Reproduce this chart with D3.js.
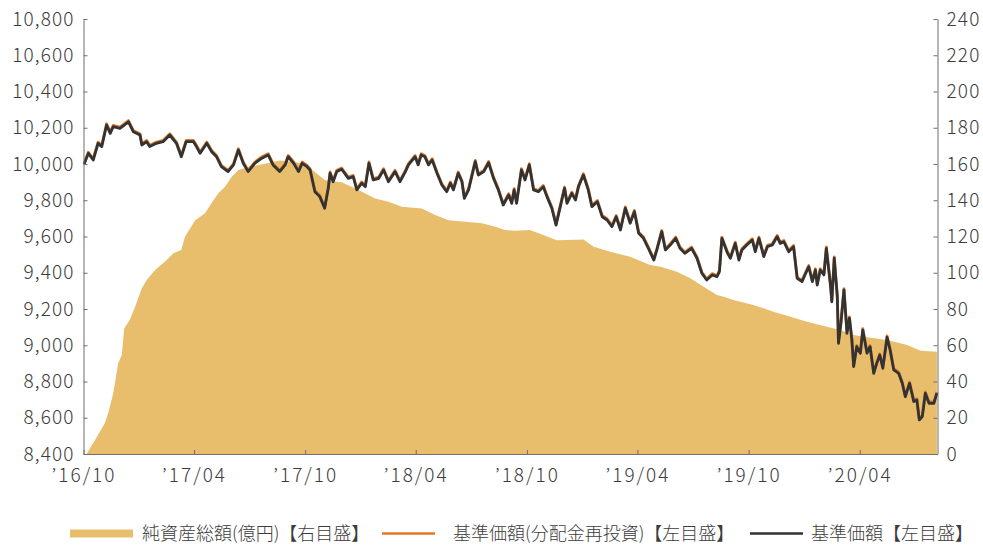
<!DOCTYPE html>
<html>
<head>
<meta charset="utf-8">
<script src="https://cdn.jsdelivr.net/npm/d3@7"></script>
<style>
  body { margin: 0; background: #fff; }
  text { font-family: "Noto Sans CJK JP", "Noto Sans", sans-serif; font-weight: 300; }
</style>
</head>
<body>
<div id="chart"></div>
<script>
// 基準価額 (black)
const navDates = [
  "2016-10-02","2016-10-09","2016-10-17","2016-10-25","2016-10-31","2016-11-08","2016-11-14","2016-11-19","2016-11-30","2016-12-14",
  "2016-12-22","2017-01-02","2017-01-05","2017-01-13","2017-01-18","2017-01-29","2017-02-09","2017-02-20","2017-03-03","2017-03-11",
  "2017-03-19","2017-03-31","2017-04-05","2017-04-11","2017-04-22","2017-04-30","2017-05-08","2017-05-16","2017-05-27","2017-06-05",
  "2017-06-13","2017-06-21","2017-06-29","2017-07-10","2017-07-21","2017-08-01","2017-08-09","2017-08-20","2017-08-29","2017-09-03",
  "2017-09-12","2017-09-20","2017-09-26","2017-10-04","2017-10-09","2017-10-17","2017-10-25","2017-11-02","2017-11-08","2017-11-11",
  "2017-11-16","2017-11-22","2017-11-30","2017-12-11","2017-12-19","2017-12-25","2018-01-02","2018-01-08","2018-01-14","2018-01-21",
  "2018-01-30","2018-02-07","2018-02-15","2018-02-26","2018-03-06","2018-03-15","2018-03-20","2018-03-31","2018-04-05","2018-04-10",
  "2018-04-16","2018-04-22","2018-04-28","2018-05-06","2018-05-14","2018-05-22","2018-05-28","2018-06-02","2018-06-10","2018-06-16",
  "2018-06-20","2018-06-27","2018-07-08","2018-07-13","2018-07-22","2018-07-30","2018-08-07","2018-08-15","2018-08-23","2018-09-01",
  "2018-09-06","2018-09-10","2018-09-14","2018-09-22","2018-09-28","2018-10-05","2018-10-12","2018-10-20","2018-10-28","2018-11-03",
  "2018-11-11","2018-11-18","2018-11-25","2018-12-02","2018-12-06","2018-12-14","2018-12-20","2018-12-25","2019-01-02","2019-01-10",
  "2019-01-16","2019-01-25","2019-02-02","2019-02-10","2019-02-18","2019-02-25","2019-03-04","2019-03-12","2019-03-20","2019-03-27",
  "2019-04-03","2019-04-11","2019-04-19","2019-04-28","2019-05-03","2019-05-11","2019-05-17","2019-05-25","2019-06-03","2019-06-10",
  "2019-06-18","2019-06-29","2019-07-08","2019-07-16","2019-07-24","2019-08-02","2019-08-10","2019-08-14","2019-08-18","2019-08-27",
  "2019-09-01","2019-09-09","2019-09-15","2019-09-20","2019-09-28","2019-10-07","2019-10-12","2019-10-18","2019-10-26","2019-11-01",
  "2019-11-09","2019-11-17","2019-11-22","2019-11-28","2019-12-06","2019-12-14","2019-12-20","2019-12-28","2020-01-03","2020-01-08",
  "2020-01-14","2020-01-19","2020-01-22","2020-01-27","2020-02-02","2020-02-06","2020-02-13","2020-02-15","2020-02-19","2020-02-24",
  "2020-02-26","2020-03-01","2020-03-06","2020-03-11","2020-03-15","2020-03-19","2020-03-22","2020-03-27","2020-04-02","2020-04-06",
  "2020-04-13","2020-04-18","2020-04-24","2020-04-29","2020-05-04","2020-05-09","2020-05-16","2020-05-21","2020-05-27","2020-06-04",
  "2020-06-10","2020-06-15","2020-06-22","2020-06-29","2020-07-04","2020-07-08","2020-07-13","2020-07-18","2020-07-24","2020-08-01",
  "2020-08-06"
];
const navValues = [
  10000,10059,10022,10114,10096,10215,10169,10206,10197,10233,
  10178,10160,10105,10123,10096,10114,10123,10160,10114,10040,
  10123,10123,10096,10059,10114,10068,10040,9985,9958,9995,
  10077,10004,9958,10004,10031,10050,9995,9958,9995,10040,
  10004,9958,10004,9985,9967,9847,9820,9756,9866,9949,
  9902,9958,9971,9921,9930,9857,9894,9875,10004,9912,
  9921,9967,9902,9958,9902,9958,9995,10040,9995,10050,
  10040,9995,10022,9949,9884,9847,9894,9857,9949,9902,
  9811,9857,10013,9939,9958,10007,9921,9857,9774,9829,
  9783,9857,9783,9967,9912,9995,9857,9847,9875,9820,
  9756,9663,9765,9866,9783,9838,9801,9875,9939,9857,
  9765,9792,9709,9691,9654,9709,9636,9756,9673,9737,
  9618,9590,9535,9470,9526,9627,9526,9553,9590,9535,
  9507,9535,9480,9397,9360,9388,9378,9406,9590,9510,
  9480,9562,9470,9526,9553,9581,9516,9590,9489,9544,
  9553,9599,9562,9571,9516,9544,9369,9351,9397,9433,
  9351,9415,9332,9415,9388,9535,9323,9240,9480,9268,
  9011,9121,9305,9066,9149,9029,8882,8992,8956,9084,
  8956,8992,8845,8900,8946,8873,9044,8974,8864,8845,
  8790,8716,8790,8689,8698,8588,8606,8735,8680,8680,
  8735
];
// 基準価額(分配金再投資) (orange), same dates
const reinvValues = [
  10000,10065,10029,10121,10103,10222,10176,10213,10204,10240,
  10185,10167,10112,10130,10103,10121,10130,10167,10121,10047,
  10130,10130,10103,10066,10121,10075,10047,9992,9965,10002,
  10084,10011,9965,10011,10038,10057,10002,9965,10002,10047,
  10011,9965,10011,9992,9974,9854,9827,9763,9873,9956,
  9909,9965,9978,9928,9937,9864,9901,9882,10011,9919,
  9928,9974,9909,9965,9909,9965,10002,10047,10002,10057,
  10047,10002,10029,9956,9891,9854,9901,9864,9956,9909,
  9818,9864,10020,9946,9965,10014,9928,9864,9781,9836,
  9790,9864,9790,9974,9919,10002,9864,9854,9882,9827,
  9763,9670,9772,9873,9790,9845,9808,9882,9946,9864,
  9772,9799,9716,9698,9661,9716,9643,9763,9680,9744,
  9625,9597,9542,9477,9533,9634,9533,9560,9597,9542,
  9514,9542,9487,9404,9367,9395,9385,9413,9597,9517,
  9487,9569,9477,9533,9560,9588,9523,9597,9496,9551,
  9560,9606,9569,9578,9523,9551,9376,9358,9404,9440,
  9358,9422,9339,9422,9395,9542,9330,9247,9487,9275,
  9018,9128,9312,9073,9156,9036,8889,8999,8963,9091,
  8963,8999,8852,8907,8953,8880,9051,8981,8871,8852,
  8797,8723,8797,8696,8705,8595,8613,8742,8687,8687,
  8742
];
// 純資産総額 (億円)
const assetDates = [
  "2016-10-07","2016-10-20","2016-11-05","2016-11-11","2016-11-19","2016-11-27","2016-12-03","2016-12-07","2016-12-16","2016-12-25",
  "2017-01-05","2017-01-13","2017-01-27","2017-02-15","2017-02-26","2017-03-11","2017-03-17","2017-04-03","2017-04-19","2017-05-03",
  "2017-05-11","2017-05-22","2017-06-02","2017-06-13","2017-07-02","2017-07-30","2017-08-20","2017-09-12","2017-09-23","2017-10-06",
  "2017-10-23","2017-11-03","2017-11-30","2017-12-28","2018-01-24","2018-02-15","2018-03-09","2018-04-11","2018-05-03","2018-05-25",
  "2018-06-21","2018-07-19","2018-08-10","2018-08-26","2018-09-11","2018-10-06","2018-10-28","2018-11-19","2019-01-02","2019-01-19",
  "2019-02-15","2019-03-20","2019-04-22","2019-05-09","2019-06-05","2019-06-27","2019-07-19","2019-08-10","2019-08-21","2019-09-06",
  "2019-10-09","2019-11-11","2019-12-09","2020-01-05","2020-02-07","2020-02-29","2020-03-22","2020-04-13","2020-05-16","2020-06-18",
  "2020-07-10","2020-08-06"
];
const assetValues = [
  0.5,7.7,17,23,33.5,50,54.6,69.3,74,81.3,
  91.4,96,101.5,107,110.7,112.5,119.9,129,132.8,140,
  143.8,147.5,153,156.7,158.5,160.4,162,161.3,160.4,158.5,
  154,151,150,145.6,141,139.2,136.4,135.5,131.9,129,
  128.2,127.3,125.4,123.6,123.2,123.6,120.8,118,118.4,114.4,
  111.6,108.8,104.3,103.3,100.6,96.9,92.3,87.7,86.8,85,
  82.2,78.5,75.7,73,70.2,68.4,65.6,64.4,62.9,60.1,
  57,56.4
];
const xTickDates = ["2016-10-01","2017-04-01","2017-10-01","2018-04-01","2018-10-01","2019-04-01","2019-10-01","2020-04-01"];
const leftTicks = [8400,8600,8800,9000,9200,9400,9600,9800,10000,10200,10400,10600,10800];
const rightTicks = [0,20,40,60,80,100,120,140,160,180,200,220,240];
const legendLabels = ["純資産総額(億円)【右目盛】","基準価額(分配金再投資)【左目盛】","基準価額【左目盛】"];

const W = 983, H = 545;
const plot = { left: 83.5, right: 937.5, top: 19, bottom: 454 };
const colors = { area: "#E8BE6D", reinv: "#E07A2B", nav: "#333333", axis: "#6e6e6e", text: "#3c3c3c" };

const parse = d3.timeParse("%Y-%m-%d");
const nav = navDates.map((d, i) => ({ date: parse(d), nav: navValues[i], reinv: reinvValues[i] }));
const assets = assetDates.map((d, i) => ({ date: parse(d), value: assetValues[i] }));

const svg = d3.select("#chart").append("svg").attr("width", W).attr("height", H);

const x = d3.scaleTime()
  .domain([parse("2016-10-01"), parse("2020-08-07")])
  .range([plot.left, plot.right]);
const yL = d3.scaleLinear().domain([8400, 10800]).range([plot.bottom, plot.top]);
const yR = d3.scaleLinear().domain([0, 240]).range([plot.bottom, plot.top]);

// area (right axis)
svg.append("path")
  .datum(assets)
  .attr("fill", colors.area)
  .attr("d", d3.area().x(d => x(d.date)).y0(yR(0)).y1(d => yR(d.value)));

// lines (left axis)
svg.append("path")
  .datum(nav)
  .attr("fill", "none")
  .attr("stroke", colors.reinv)
  .attr("stroke-width", 2.8)
  .attr("stroke-linejoin", "round")
  .attr("d", d3.line().x(d => x(d.date)).y(d => yL(d.reinv)));
svg.append("path")
  .datum(nav)
  .attr("fill", "none")
  .attr("stroke", colors.nav)
  .attr("stroke-width", 2.8)
  .attr("stroke-linejoin", "round")
  .attr("d", d3.line().x(d => x(d.date)).y(d => yL(d.nav)));

// axes
const styleAxis = (spacing) => g => {
  g.selectAll(".domain").attr("stroke", colors.axis);
  g.selectAll(".tick line").attr("stroke", colors.axis);
  g.selectAll(".tick text").attr("fill", colors.text).attr("font-size", "19px")
    .attr("letter-spacing", spacing)
    .attr("font-family", '"Noto Sans CJK JP", "Noto Sans", sans-serif').attr("font-weight", 300);
};

svg.append("g")
  .attr("transform", `translate(${plot.left},0)`)
  .call(d3.axisLeft(yL).tickValues(leftTicks).tickFormat(d3.format(",")).tickSizeInner(-4).tickSizeOuter(0).tickPadding(9))
  .call(styleAxis("1.1px"));

svg.append("g")
  .attr("transform", `translate(${plot.right},0)`)
  .call(d3.axisRight(yR).tickValues(rightTicks).tickSizeInner(-4).tickSizeOuter(0).tickPadding(9))
  .call(styleAxis("1.2px"));

svg.append("g")
  .attr("transform", `translate(0,${plot.bottom})`)
  .call(d3.axisBottom(x).tickValues(xTickDates.map(parse))
    .tickFormat(d => "\u2019" + d3.timeFormat("%y/%m")(d)).tickSizeInner(-4).tickSizeOuter(0).tickPadding(15))
  .call(styleAxis("2px"));

// legend
const legend = svg.append("g").attr("font-size", "18px").attr("fill", colors.text);
const lgY = 533.5;
legend.append("rect").attr("x", 70).attr("y", lgY - 4).attr("width", 63).attr("height", 8).attr("fill", colors.area);
legend.append("text").attr("x", 142).attr("y", lgY).attr("dy", "0.36em").text(legendLabels[0]);
legend.append("line").attr("x1", 382).attr("x2", 435).attr("y1", lgY).attr("y2", lgY)
  .attr("stroke", colors.reinv).attr("stroke-width", 2.5);
legend.append("text").attr("x", 453).attr("y", lgY).attr("dy", "0.36em").text(legendLabels[1]);
legend.append("line").attr("x1", 750).attr("x2", 803).attr("y1", lgY).attr("y2", lgY)
  .attr("stroke", colors.nav).attr("stroke-width", 2.5);
legend.append("text").attr("x", 811).attr("y", lgY).attr("dy", "0.36em").text(legendLabels[2]);
</script>
</body>
</html>
